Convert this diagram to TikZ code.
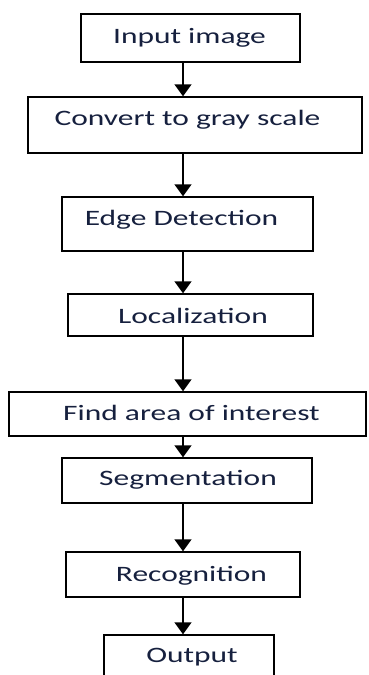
\documentclass[tikz,border=0pt]{standalone}
\usepackage{fontspec}
\setmainfont{Carlito}[FakeStretch=1.43]
\usetikzlibrary{arrows.meta}
\definecolor{txt}{RGB}{22,32,62}
\begin{document}
\begin{tikzpicture}[x=1pt,y=-1pt,
  box/.style={draw=black,line width=1.4pt,rectangle,inner sep=0pt,fill=white},
  lbl/.style={anchor=base,inner sep=0pt,text=txt,font=\fontsize{22}{26}\selectfont},
  arr/.style={draw=black,line width=1.4pt,-{Triangle[width=17pt,length=12pt]}}]
\useasboundingbox (0,0) rectangle (369,675);
\clip (0,0) rectangle (369,675);
\coordinate (ax) at (183,0);
\node[box,minimum width=219pt,minimum height=48pt] (b1) at (190.5,38) {};
\node[box,minimum width=334pt,minimum height=56pt] (b2) at (195,125) {};
\node[box,minimum width=251pt,minimum height=54pt] (b3) at (187.5,224) {};
\node[box,minimum width=245pt,minimum height=42pt] (b4) at (190.5,315) {};
\node[box,minimum width=357pt,minimum height=44pt] (b5) at (187.5,414) {};
\node[box,minimum width=250pt,minimum height=45pt] (b6) at (187,480.5) {};
\node[box,minimum width=234pt,minimum height=45pt] (b7) at (183,574.5) {};
\node[box,minimum width=170pt,minimum height=65pt] (b8) at (189,667.5) {};
\node[lbl] (t1) at (189.5,43.3) {Input image};
\node[lbl] (t2) at (187.5,125) {Convert to gray scale};
\node[lbl] (t3) at (181.5,225) {Edge Detection};
\node[lbl] (t4) at (193,323) {Localization};
\node[lbl] (t5) at (191.5,420) {Find area of interest};
\node[lbl] (t6) at (188,485) {Segmentation};
\node[lbl] (t7) at (191.5,581) {Recognition};
\node[lbl] (t8) at (192,662.7) {Output};
\draw[arr] (b1.south -| ax) -- (b2.north -| ax);
\draw[arr] (b2.south -| ax) -- (b3.north -| ax);
\draw[arr] (b3.south -| ax) -- (b4.north -| ax);
\draw[arr] (b4.south -| ax) -- (b5.north -| ax);
\draw[arr] (b5.south -| ax) -- (b6.north -| ax);
\draw[arr] (b6.south -| ax) -- (b7.north -| ax);
\draw[arr] (b7.south -| ax) -- (b8.north -| ax);
\end{tikzpicture}
\end{document}
